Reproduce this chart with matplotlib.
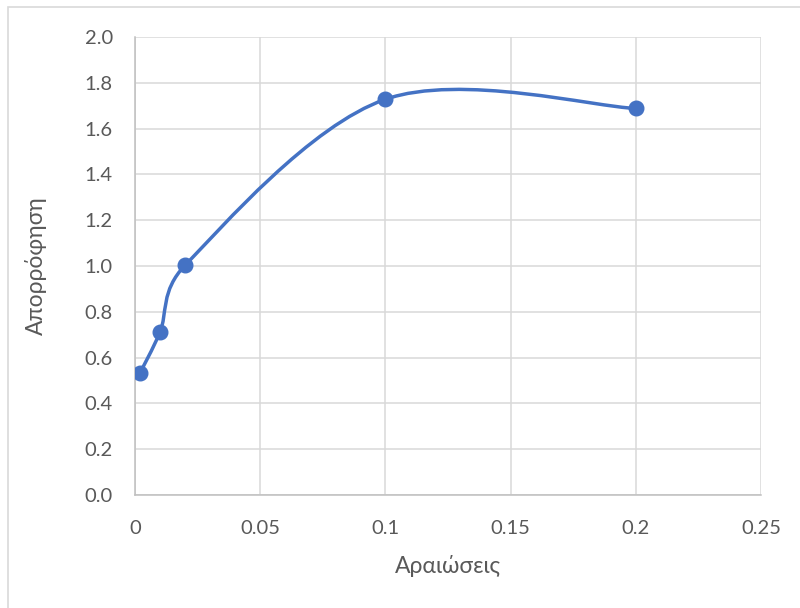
import numpy as np
import matplotlib.pyplot as plt
from matplotlib.path import Path
from matplotlib.patches import PathPatch, Rectangle

# Αραιώσεις / απορρόφηση
araioseis = [0.002, 0.01, 0.02, 0.1, 0.2]
aporrofisi = [0.533, 0.712, 1.003, 1.728, 1.688]

x_ticks = [0, 0.05, 0.1, 0.15, 0.2, 0.25]
y_ticks = [0.0, 0.2, 0.4, 0.6, 0.8, 1.0, 1.2, 1.4, 1.6, 1.8, 2.0]

blue = '#4472C4'
grey_txt = '#595959'
grid_col = '#d9d9d9'
fonts = ['Lato', 'DejaVu Sans']

W, H = 800, 608
fig = plt.figure(figsize=(W / 100, H / 100), dpi=100)
ax = fig.add_axes([135 / W, (H - 495) / H, (761 - 135) / W, (495 - 37) / H])

# chart area frame
fig.patches.append(Rectangle((8 / W, -0.1), 1.2, (H - 7) / H + 0.1,
                             transform=fig.transFigure, fill=False,
                             edgecolor='#d9d9d9', linewidth=1.2))

ax.set_xlim(0, 0.25)
ax.set_ylim(0, 2.0)
ax.set_xticks(x_ticks)
ax.set_yticks(y_ticks)
ax.set_xticklabels([f'{v:g}' for v in x_ticks])
ax.set_yticklabels([f'{v:.1f}' for v in y_ticks])
ax.grid(True, color=grid_col, linewidth=1.1)
ax.set_axisbelow(True)
for s in ['top', 'right']:
    ax.spines[s].set_visible(False)
for s in ['left', 'bottom']:
    ax.spines[s].set_color('#bfbfbf')
    ax.spines[s].set_linewidth(1.1)
ax.tick_params(length=0, labelsize=14.5, labelcolor=grey_txt)
ax.tick_params(axis='y', pad=16)
ax.tick_params(axis='x', pad=18)
for lab in ax.get_xticklabels() + ax.get_yticklabels():
    lab.set_family(fonts)

ax.set_xlabel('Αραιώσεις', fontsize=16.5, color=grey_txt, family=fonts, labelpad=13)
ax.set_ylabel('Απορρόφηση', fontsize=16.5, color=grey_txt, family=fonts, labelpad=27)

# smoothed line (Bezier segments computed in screen space)
pts = ax.transData.transform(np.column_stack([araioseis, aporrofisi]))
ext = np.vstack([pts[0], pts, pts[-1]])
verts = [pts[0]]
codes = [Path.MOVETO]
for i in range(1, len(ext) - 2):
    p0, p1, p2, p3 = ext[i - 1], ext[i], ext[i + 1], ext[i + 2]
    d12 = np.hypot(*(p2 - p1))
    d02 = np.hypot(*(p2 - p0))
    d13 = np.hypot(*(p3 - p1))
    f1 = 1 / 6 if d02 / 6 < d12 / 2 else d12 / (2 * d02)
    f2 = 1 / 6 if d13 / 6 < d12 / 2 else d12 / (2 * d13)
    c1 = p1 + f1 * (p2 - p0)
    c2 = p2 - f2 * (p3 - p1)
    verts += [c1, c2, p2]
    codes += [Path.CURVE4] * 3
verts = ax.transData.inverted().transform(np.array(verts))
ax.add_patch(PathPatch(Path(verts, codes), facecolor='none', edgecolor=blue,
                       linewidth=2.5, capstyle='round', zorder=3))

ax.plot(araioseis, aporrofisi, 'o', color=blue, markersize=10.5, zorder=4)

fig.savefig('out.png', dpi=100)
